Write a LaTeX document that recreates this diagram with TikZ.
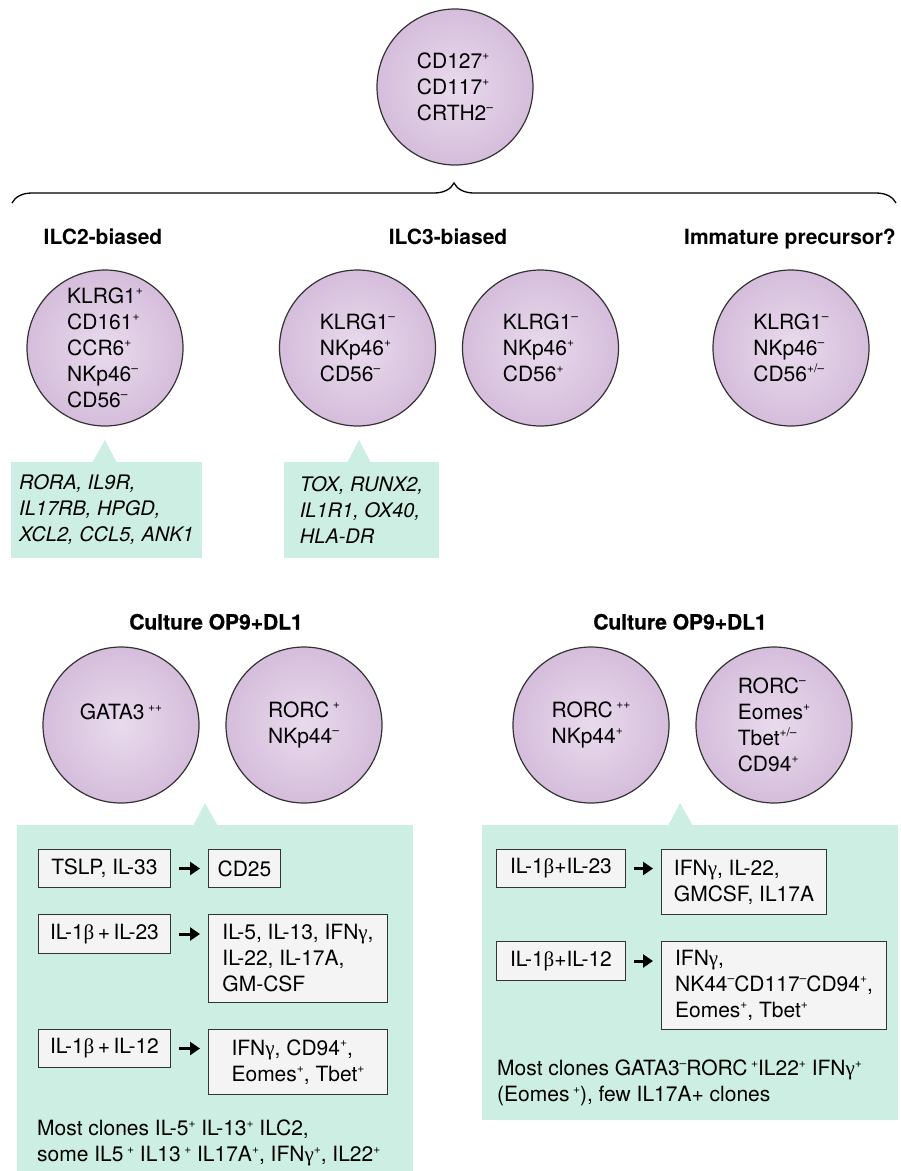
\documentclass[tikz,border=0pt]{standalone}
\usepackage{fontspec}
\setmainfont{TeX Gyre Heros}
\newfontfamily\heavyfont[BoldFeatures={FakeBold=0.8}]{TeX Gyre Heros}
\newfontfamily\grk{Liberation Serif}
\usetikzlibrary{arrows.meta,decorations.pathreplacing}

\definecolor{cellin}{HTML}{E9DBED}
\definecolor{cellout}{HTML}{D5BDDB}
\definecolor{cellline}{HTML}{333333}
\definecolor{mint}{HTML}{CDEEE3}
\definecolor{boxgray}{HTML}{F3F4F3}

\newcommand{\hi}[1]{\raisebox{0.8ex}{\fontsize{12}{12}\selectfont #1}}
\newcommand{\bsym}{{\grk β}}
\newcommand{\gsym}{{\grk γ}}

\begin{document}
\begin{tikzpicture}
        [x=1pt,y=-1pt,
        cell/.style={circle,draw=cellline,line width=1.2pt,minimum size=156pt,inner sep=0pt,inner color=cellin,outer color=cellout,align=left,font=\fontsize{21}{26}\selectfont},
        head/.style={anchor=base,font=\fontsize{21}{26}\selectfont\bfseries},
        culthead/.style={head,font=\fontsize{21}{26}\selectfont\heavyfont\bfseries},
        genes/.style={fill=mint,minimum height=96pt,inner sep=0pt,align=left,font=\fontsize{20}{26}\selectfont\itshape},
        iobox/.style={draw=cellline,fill=boxgray,line width=1pt,anchor=north west,inner xsep=8pt,inner ysep=0pt,align=left,font=\fontsize{21}{26}\selectfont},
        note/.style={anchor=north west,inner sep=0pt,align=left,font=\fontsize{21}{26}\selectfont},
        arr/.style={-{Triangle[length=10pt,width=13pt]},line width=3pt,shorten <=8pt,shorten >=8pt}]

        \useasboundingbox (0,0) rectangle (901,1171);

        \node[cell] (root) at (455,87) {CD127\hi{+}\\CD117\hi{+}\\CRTH2\hi{--}};
        \draw[line width=1.3pt,decorate,decoration={brace,amplitude=20pt}] (12,203) -- (896,203);

        \node[head] (ilc2head) at (103,244) {ILC2-biased};
        \node[head] (ilc3head) at (448,244) {ILC3-biased};
        \node[head] (immhead) at (790,244) {Immature precursor?};

        \node[cell] (ilc2) at (105,348) {KLRG1\hi{+}\\CD161\hi{+}\\CCR6\hi{+}\\NKp46\hi{--}\\CD56\hi{--}};
        \node[cell] (ilc3a) at (357.5,348) {KLRG1\hi{--}\\NKp46\hi{+}\\CD56\hi{--}};
        \node[cell] (ilc3b) at (540.5,348) {KLRG1\hi{--}\\NKp46\hi{+}\\CD56\hi{+}};
        \node[cell] (imm) at (791,348) {KLRG1\hi{--}\\NKp46\hi{--}\\CD56\hi{+/--}};

        \fill[mint] (92,463) -- (105,440) -- (117,463) -- cycle;
        \fill[mint] (347,463) -- (359,440) -- (371,463) -- cycle;
        \node[genes,minimum width=191pt] (ilc2genes) at (106.5,510) {RORA, IL9R,\\IL17RB, HPGD,\\XCL2, CCL5, ANK1};
        \node[genes,minimum width=155pt] (ilc3genes) at (361.5,510) {TOX, RUNX2,\\IL1R1, OX40,\\HLA-DR};

        \node[culthead] (cultl) at (216,629.5) {Culture OP9+DL1};
        \node[culthead] (cultr) at (680,629.5) {Culture OP9+DL1};

        \node[cell] (gata) at (121,725) {GATA3\,\hi{++}\\\mbox{}};
        \node[cell] (rorcp) at (304,725) {RORC\,\hi{+}\\NKp44\hi{--}};
        \node[cell] (rorcpp) at (591,725) {RORC\,\hi{++}\\NKp44\hi{+}};
        \node[cell] (rorcm) at (774,725) {RORC\hi{--}\\Eomes\hi{+}\\Tbet\hi{+/--}\\CD94\hi{+}};

        \fill[mint] (193,826) -- (205,803) -- (218,826) -- cycle;
        \fill[mint] (17,825) rectangle (413,1171);
        \fill[mint] (668,826) -- (680,803) -- (693,826) -- cycle;
        \fill[mint] (482,825) rectangle (898,1120);

        \node[iobox,minimum width=132pt,minimum height=38pt] (tslp) at (38,849) {TSLP, IL-33};
        \node[iobox,minimum width=72pt,minimum height=38pt] (cd25) at (208,849) {CD25};
        \node[iobox,minimum width=132pt,minimum height=39pt] (il23l) at (38,914) {IL-1\bsym\,+\,IL-23};
        \node[iobox,minimum width=179pt,minimum height=88pt] (out23l) at (208,914) {IL-5, IL-13, IFN\gsym,\\IL-22, IL-17A,\\GM-CSF};
        \node[iobox,minimum width=132pt,minimum height=38pt] (il12l) at (38,1029) {IL-1\bsym\,+\,IL-12};
        \node[iobox,minimum width=179pt,minimum height=65pt] (out12l) at (208,1029) {IFN\gsym, CD94\hi{+},\\Eomes\hi{+}, Tbet\hi{+}};

        \node[iobox,minimum width=129pt,minimum height=38pt] (il23r) at (496,849) {IL-1\bsym+IL-23};
        \node[iobox,minimum width=165pt,minimum height=65pt] (out23r) at (661,849) {IFN\gsym, IL-22,\\GMCSF, IL17A};
        \node[iobox,minimum width=129pt,minimum height=39pt] (il12r) at (496,941) {IL-1\bsym+IL-12};
        \node[iobox,minimum width=225pt,minimum height=88pt] (out12r) at (661,941) {IFN\gsym,\\NK44\hi{--}CD117\hi{--}CD94\hi{+},\\Eomes\hi{+}, Tbet\hi{+}};

        \draw[arr] (tslp.east) -- (tslp.east -| cd25.west);
        \draw[arr] (il23l.east) -- (il23l.east -| out23l.west);
        \draw[arr] (il12l.east) -- (il12l.east -| out12l.west);
        \draw[arr] (il23r.east) -- (il23r.east -| out23r.west);
        \draw[arr] (il12r.east) -- (il12r.east -| out12r.west);

        \node[note] (notel) at (37,1120) {Most clones IL-5\hi{+} IL-13\hi{+} ILC2,\\some IL5\,\hi{+} IL13\,\hi{+} IL17A\hi{+}, IFN\gsym\hi{+}, IL22\hi{+}};
        \node[note] (noter) at (497,1060) {Most clones GATA3\hi{--}RORC\,\hi{+}IL22\hi{+} IFN\gsym\hi{+}\\(Eomes\,\hi{+}), few IL17A+ clones};

      \end{tikzpicture}
\end{document}
